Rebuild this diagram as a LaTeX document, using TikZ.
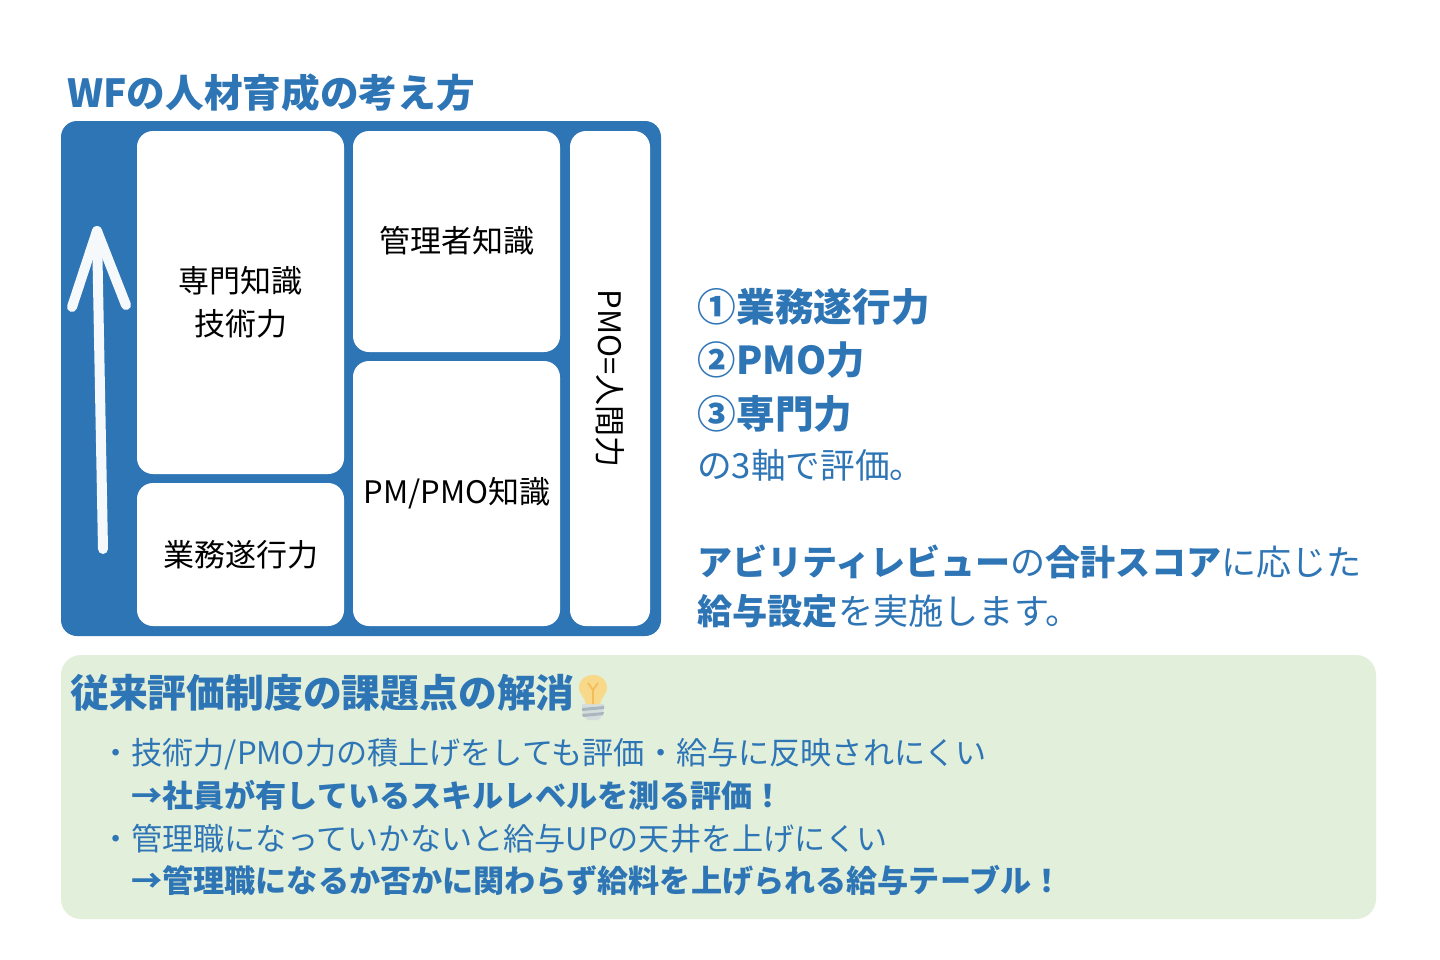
\documentclass[tikz,border=0pt]{standalone}
\usepackage{fontspec}
\setmainfont{Noto Sans CJK JP}
\definecolor{wfblue}{HTML}{2E75B6}
\definecolor{wfgreen}{HTML}{E2EFDA}
\definecolor{wfarrow}{HTML}{F5F9FC}
\definecolor{bulb}{HTML}{F8D98A}
\definecolor{bulbline}{HTML}{F2BE5C}
\definecolor{bulbbase}{HTML}{D5DDDC}
\definecolor{bulbring}{HTML}{A9B6C0}
\newcommand{\fs}[1]{\fontsize{#1}{#1}\selectfont}
\tikzset{
  cell/.style={fill=white,rounded corners=12pt,inner sep=0pt},
  lab/.style={font=\fs{23.25},text=black,align=center,inner sep=0pt},
  bluetxt/.style={text=wfblue,anchor=west,inner sep=0pt},
}
\begin{document}
\begin{tikzpicture}[x=0.75pt,y=-0.75pt]
\useasboundingbox (0,0) rectangle (1440,960);
\fill[white] (0,0) rectangle (1440,960);
\node[bluetxt,font=\fs{29}\bfseries] (title) at (67,93) {WFの人材育成の考え方};
\fill[wfblue,rounded corners=12pt] (61,121) rectangle (661,636);
\fill[cell] (137,131) rectangle (344,474);
\fill[cell] (137,483) rectangle (344,626);
\fill[cell] (353,131) rectangle (560,352);
\fill[cell] (353,361) rectangle (560,626);
\fill[cell] (570,131) rectangle (650,626);
\node[lab] (a) at (240.5,302) {専門知識\\[9pt]技術力};
\node[lab] (b) at (240.5,555) {業務遂行力};
\node[lab] (c) at (457,241) {管理者知識};
\node[lab] (d) at (457,493) {PM/PMO知識};
\node[lab,rotate=-90] (e) at (610,378.5) {PMO=人間力};
\coordinate (arS) at (103,549);
\coordinate (arT) at (97,231);
\coordinate (arL) at (72,307);
\coordinate (arR) at (126,305);
\draw[wfarrow,line width=7.5pt,line cap=round,line join=round] (arS) -- (arT);
\draw[wfarrow,line width=7.5pt,line cap=round,line join=round] (arL) -- (arT) -- (arR);
\node[bluetxt,font=\fs{29}\bfseries] (r1) at (697.5,307) {①業務遂行力};
\node[bluetxt,font=\fs{28.8}\bfseries] (r2) at (697.5,360) {②PMO力};
\node[bluetxt,font=\fs{29}\bfseries] (r3) at (697.5,414) {③専門力};
\node[bluetxt,font=\fs{26}] (r4) at (697,465.5) {の3軸で評価。};
\node[bluetxt,font=\fs{26.3}] (r5) at (697,562) {\textbf{アビリティレビュー}の\textbf{合計スコア}に応じた};
\node[bluetxt,font=\fs{26.4}] (r6) at (697,611) {\textbf{給与設定}を実施します。};
\fill[wfgreen,rounded corners=15pt] (61,655) rectangle (1376,919);
\node[bluetxt,font=\fs{29.1}\bfseries] (h) at (70,693) {従来評価制度の課題点の解消};
\begin{scope}[shift={(593,692)}]
  \fill[bulbbase] (-11,12) -- (11,12) -- (10,23) -- (5,28) -- (-5,28) -- (-10,23) -- cycle;
  \fill[bulbring] (-11,16) -- (11,14) -- (11,17) -- (-11,19) -- cycle;
  \fill[bulbring] (-11,22) -- (11,20) -- (10,23) -- (-10,25) -- cycle;
  \fill[bulb] (-7,12) .. controls (-8,5) and (-14,3) .. (-14,-5) .. controls (-14,-12) and (-8,-17) .. (0,-17) .. controls (8,-17) and (14,-12) .. (14,-5) .. controls (14,3) and (8,5) .. (7,12) -- cycle;
  \draw[bulbline,line width=1.4pt] (0,12) -- (0,-2) -- (-5,-9) (0,-2) -- (5,-9);
\end{scope}
\node[bluetxt,font=\fs{23.35}] (l1) at (100,754) {・技術力/PMO力の積上げをしても評価・給与に反映されにくい};
\node[bluetxt,font=\fs{23.35}\bfseries] (l2) at (131,795) {→社員が有しているスキルレベルを測る評価！};
\node[bluetxt,font=\fs{23.35}] (l3) at (100,838.5) {・管理職になっていかないと給与UPの天井を上げにくい};
\node[bluetxt,font=\fs{23.35}\bfseries] (l4) at (131,881) {→管理職になるか否かに関わらず給料を上げられる給与テーブル！};
\end{tikzpicture}
\end{document}
